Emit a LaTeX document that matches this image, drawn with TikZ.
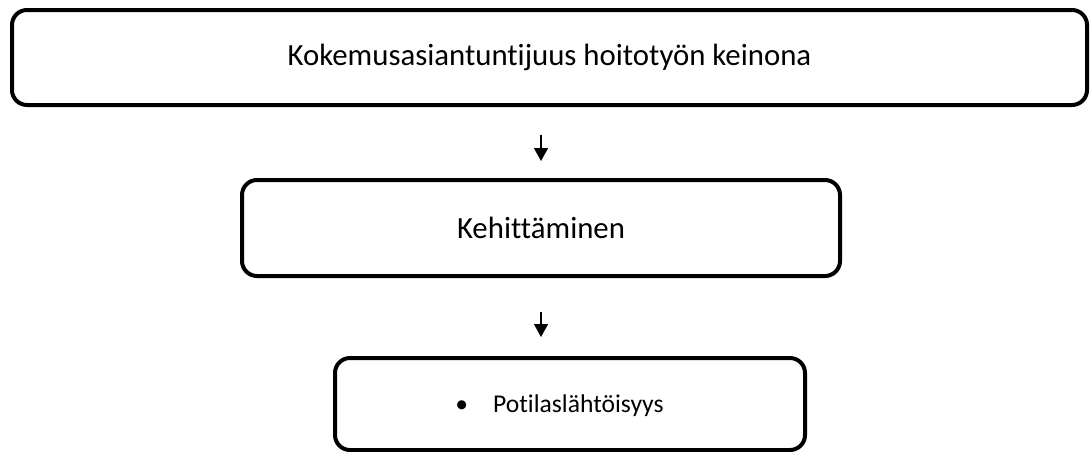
\documentclass[tikz,border=0pt]{standalone}
\usepackage{fontspec}
\setmainfont[Ligatures=NoCommon,RawFeature=-liga]{Carlito}
\usetikzlibrary{arrows.meta,positioning}

\tikzset{
	stage/.style={draw=black, line width=2pt, rounded corners=7.5pt, fill=white, font=\fontsize{15.4}{18}\selectfont},
	flow/.style={-{Triangle[width=7pt,length=6.5pt]}, line width=0.75pt},
	txt/.style={inner sep=0pt, font=\fontsize{12.8}{15}\selectfont}
}

\begin{document}
\begin{tikzpicture}[x=0.5pt,y=-0.5pt]
		
		\useasboundingbox (0,0) rectangle (1090,451);
		
		% Boxes
		\node[stage, minimum width=537.5pt, minimum height=47.5pt] (keino) at (549.5,57.5) {Kokemusasiantuntijuus hoitotyön keinona};
		\node[stage, minimum width=299pt, minimum height=48pt] (kehitys) at (541,228) {Kehittäminen};
		\node[stage, minimum width=235pt, minimum height=46pt] (potilas) at (570,404) {};
		\node[txt, right=61pt of potilas.west, yshift=-1pt] (lahto) {\textbullet\hspace{12.5pt}Potilaslähtöisyys};
		
		% Arrows
		\draw[flow, shorten <=14pt, shorten >=8.5pt] (keino.south -| kehitys.north) -- (kehitys.north);
		\draw[flow, shorten <=17pt, shorten >=9.5pt] (kehitys.south) -- (potilas.north -| kehitys.south);
		
	\end{tikzpicture}
\end{document}
